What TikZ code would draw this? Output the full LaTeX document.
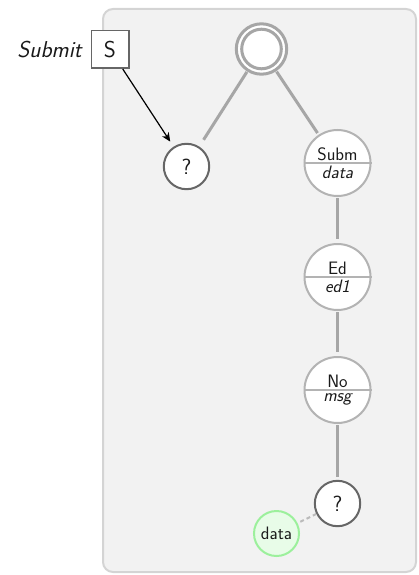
\documentclass[tikz,border=0pt]{standalone}
\usetikzlibrary{arrows.meta}
\definecolor{panelfill}{HTML}{F2F2F2}
\definecolor{panelline}{HTML}{D4D4D4}
\definecolor{edgegray}{HTML}{A6A6A6}
\definecolor{ringgray}{HTML}{B3B3B3}
\definecolor{darkline}{HTML}{666666}
\definecolor{txt}{HTML}{1A1A1A}
\definecolor{greenfill}{HTML}{E8FCE8}
\definecolor{greenline}{HTML}{9CF09C}
\begin{document}
\begin{tikzpicture}[x=1pt,y=-1pt,
  font=\sffamily\fontsize{18}{20}\selectfont,
  text=txt,
  edge/.style={draw=edgegray,line width=3pt},
  opnode/.style={circle,draw=darkline,fill=white,line width=2pt,minimum size=45.4pt,inner sep=0pt,
    font=\sffamily\fontsize{22}{24}\selectfont},
  splitnode/.style={circle,draw=ringgray,fill=white,line width=2pt,minimum size=66pt,inner sep=0pt},
  upper/.style={anchor=south,inner sep=0pt,yshift=2.5pt},
  lower/.style={anchor=north,inner sep=0pt,yshift=-3pt,font=\sffamily\itshape\fontsize{18}{20}\selectfont},
  bigtext/.style={font=\sffamily\fontsize{23}{25}\selectfont}]
\useasboundingbox (0,0) rectangle (419,575);

% container
\draw[fill=panelfill,draw=panelline,line width=2pt,rounded corners=10pt]
  (103,9) rectangle (416,572);

% start marker: a double ring
\node[circle,draw=edgegray,fill=white,line width=3pt,minimum size=50.4pt,inner sep=0pt] (top) at (261.5,49) {};
\node[circle,draw=edgegray,fill=white,line width=3pt,minimum size=39.6pt,inner sep=0pt] (topin) at (top) {};

% signal box and its label
\node[draw=darkline,fill=white,line width=1.5pt,minimum size=37.5pt,inner sep=0pt,bigtext] (S) at (110,49.5) {S};
\node[anchor=east,inner sep=0pt,font=\sffamily\itshape\fontsize{23}{25}\selectfont] (submit) at (82,49.5) {Submit};

% choice nodes
\node[opnode] (q1) at (186.5,166.5) {?};
\node[opnode] (q2) at (337.5,503.5) {?};

% split nodes
\node[splitnode] (subm) at (337.5,163) {};
\node[splitnode] (ed) at (337.5,277) {};
\node[splitnode] (no) at (337.5,390) {};
\foreach \n/\a/\b in {subm/Subm/data, ed/Ed/ed1, no/No/msg}{
  \draw[ringgray,line width=2pt] (\n.west) -- (\n.east);
  \node[upper] (\n-up) at (\n) {\a};
  \node[lower] (\n-lo) at (\n) {\b};
}

% data node
\node[circle,draw=greenline,fill=greenfill,line width=2pt,minimum size=45pt,inner sep=0pt] (data) at (276.5,533.5) {data};

% connectors
\draw[edge,shorten <=0.5pt,shorten >=8pt] (top) -- (q1);
\draw[edge,shorten <=0.5pt,shorten >=2pt] (top) -- (subm);
\draw[edge,shorten <=1pt,shorten >=4pt] (subm) -- (ed);
\draw[edge,shorten <=1pt,shorten >=4pt] (ed) -- (no);
\draw[edge,shorten <=1pt,shorten >=3pt] (no) -- (q2);
\draw[draw=ringgray!90!white,line width=2pt,dash pattern=on 4pt off 3pt,shorten <=3pt] (data) -- (q2);
\draw[black,line width=1.2pt,-{Stealth[length=9pt,width=8pt]},shorten >=6pt] (S) -- (q1);
\end{tikzpicture}
\end{document}
